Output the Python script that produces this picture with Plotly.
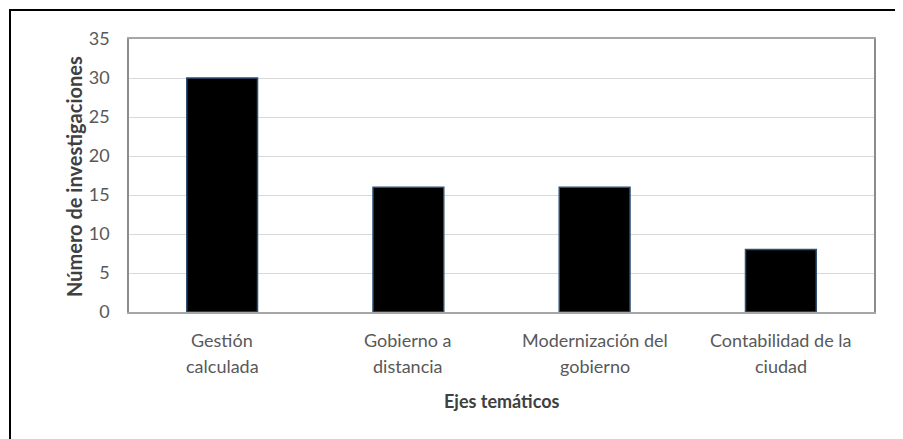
import plotly.graph_objects as go

categories = ["Gestión calculada", "Gobierno a distancia", "Modernización del gobierno", "Contabilidad de la ciudad"]
label_line1 = ["Gestión", "Gobierno a", "Modernización del", "Contabilidad de la"]
label_line2 = ["calculada", "distancia", "gobierno", "ciudad"]
values = [30, 16, 16, 8]
y_ticks = [0, 5, 10, 15, 20, 25, 30, 35]

FONT = "Lato"
GRAY = "#595959"

# page body has an 8px margin, so work in figure coords = screen - 8
OFF = 8
W, H = 903 - OFF, 439 - OFF
L, T = 129 - OFF, 39 - OFF
R = W - (874 - OFF)
B = H - (312 - OFF)
pw, ph = W - L - R, H - T - B
base = 312  # screen y of the zero line

fig = go.Figure()
fig.add_trace(go.Bar(
    x=categories, y=values,
    marker=dict(color="#000000", line=dict(color="#2f4f75", width=1.5)),
    width=0.38,
))

annotations = []
for c, a, b in zip(categories, label_line1, label_line2):
    annotations.append(dict(x=c, y=(base - 340) / ph, xref="x", yref="paper", text=a,
                            showarrow=False, font=dict(family=FONT, size=18, color=GRAY),
                            xanchor="center", yanchor="middle"))
    annotations.append(dict(x=c, y=(base - 366) / ph, xref="x", yref="paper", text=b,
                            showarrow=False, font=dict(family=FONT, size=18, color=GRAY),
                            xanchor="center", yanchor="middle"))
annotations.append(dict(x=0.5, y=(base - 401) / ph, xref="paper", yref="paper", text="<b>Ejes temáticos</b>",
                        showarrow=False, font=dict(family=FONT, size=18, color="#404040"),
                        xanchor="center", yanchor="middle"))
annotations.append(dict(x=(74 - 129) / pw, y=(base - 177) / ph, xref="paper", yref="paper",
                        text="<b>Número de investigaciones</b>", textangle=-90,
                        showarrow=False, font=dict(family=FONT, size=20, color="#404040"),
                        xanchor="center", yanchor="middle"))

fig.update_layout(
    width=W, height=H,
    margin=dict(l=L, r=R, t=T, b=B, pad=0),
    paper_bgcolor="white", plot_bgcolor="white",
    showlegend=False,
    annotations=annotations,
    xaxis=dict(showticklabels=False, showgrid=False, ticks="",
               showline=True, linecolor="#a6a6a6", linewidth=1.5, mirror=True),
    yaxis=dict(range=[0, 35], tickvals=y_ticks, showgrid=True, gridcolor="#d9d9d9", gridwidth=1,
               zeroline=False, ticks="", ticklabelstandoff=14,
               tickfont=dict(family=FONT, size=18, color=GRAY),
               showline=True, linecolor="#8c8c8c", linewidth=1.5, mirror=True),
    shapes=[dict(type="rect", xref="paper", yref="paper",
                 x0=(10 - 129) / pw, x1=(915 - 129) / pw,
                 y0=(base - 460) / ph, y1=(base - 10) / ph,
                 line=dict(color="black", width=2), fillcolor="rgba(0,0,0,0)", layer="above")],
)

fig.write_html("out.html")
